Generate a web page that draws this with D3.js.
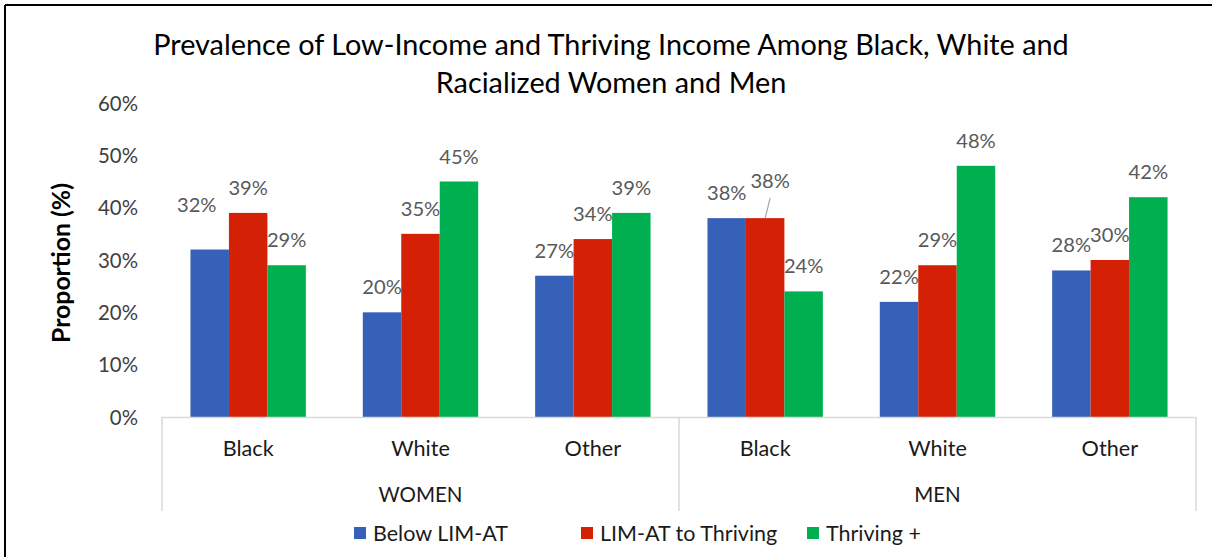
<!DOCTYPE html>
<html>
<head>
<meta charset="utf-8">
<script src="https://cdn.jsdelivr.net/npm/d3@7"></script>
<style>
  html, body { margin: 0; padding: 0; background: #fff; }
  svg { display: block; font-family: Lato, "Open Sans", sans-serif; }
</style>
</head>
<body>
<svg id="chart" width="1212" height="557"></svg>
<script>
// Chart data
const groups = ["WOMEN", "MEN"];
const races = ["Black", "White", "Other"];
const seriesNames = ["Below LIM-AT", "LIM-AT to Thriving", "Thriving +"];
const belowLimAt = [32, 20, 27, 38, 22, 28];
const limAtToThriving = [39, 35, 34, 38, 29, 30];
const thrivingPlus = [29, 45, 39, 24, 48, 42];
const yTicks = [0, 10, 20, 30, 40, 50, 60];
const titleLines = [
  "Prevalence of Low-Income and Thriving Income Among Black, White and",
  "Racialized Women and Men"
];

const colors = ["#3562b8", "#d42004", "#00b050"];
const seriesValues = [belowLimAt, limAtToThriving, thrivingPlus];

// category keys: one per group/race pair
const cats = [];
groups.forEach(g => races.forEach(r => cats.push(g + "|" + r)));

const svg = d3.select("#chart");

// pick a font size so that a sample string takes the given width
function sizeFor(sample, width, weight) {
  const t = svg.append("text").attr("font-size", 100)
    .attr("font-weight", weight || "normal").text(sample);
  const w = t.node().getComputedTextLength();
  t.remove();
  return 100 * width / w;
}
const fsTitle = sizeFor(titleLines[0], 916);
const fsYTitle = sizeFor("Proportion (%)", 160, "bold");
const fsLabel = sizeFor("45%", 39.5);
const fsTick = sizeFor("60%", 40);
const fsCat = sizeFor("Black", 51);
const fsGroup = sizeFor("WOMEN", 84);
const fsLegend = sizeFor("Below LIM-AT", 135);

// frame lines along the top and left edges
svg.append("line").attr("x1", 5).attr("x2", 1212).attr("y1", 5).attr("y2", 5)
  .attr("stroke", "#000").attr("stroke-width", 2);
svg.append("line").attr("x1", 5).attr("x2", 5).attr("y1", 5).attr("y2", 557)
  .attr("stroke", "#000").attr("stroke-width", 2);

const plot = { left: 162, right: 1196, top: 103, bottom: 417 };

const x0 = d3.scaleBand().domain(cats).range([plot.left, plot.right]).padding(0);
const x1 = d3.scaleBand().domain(seriesNames).range([0, x0.bandwidth()])
  .paddingInner(0).paddingOuter(0.74);
const y = d3.scaleLinear().domain([0, 60]).range([plot.bottom, plot.top]);

// title
const title = svg.append("text").attr("text-anchor", "middle")
  .attr("font-size", fsTitle).attr("fill", "#000");
titleLines.forEach((t, i) => {
  title.append("tspan").attr("x", 611).attr("y", 55 + i * 38).text(t);
});

// y axis (labels only)
const yAxis = d3.axisLeft(y).tickValues(yTicks).tickFormat(d => d + "%").tickSize(0).tickPadding(0);
const yg = svg.append("g").attr("transform", "translate(138,0)").call(yAxis);
yg.select(".domain").remove();
yg.selectAll("text").attr("font-size", fsTick).attr("fill", "#404040")
  .attr("font-family", "Lato, sans-serif").attr("dy", "0.35em");

// y axis title
svg.append("text")
  .attr("transform", `translate(70,${(183 + 343) / 2}) rotate(-90)`)
  .attr("text-anchor", "middle").attr("font-size", fsYTitle).attr("font-weight", "bold")
  .attr("fill", "#000").text("Proportion (%)");

// bars
const barData = [];
cats.forEach((c, ci) => {
  seriesNames.forEach((s, si) => {
    barData.push({ cat: c, ci, series: s, si, value: seriesValues[si][ci] });
  });
});

svg.append("g").selectAll("rect").data(barData).join("rect")
  .attr("x", d => x0(d.cat) + x1(d.series))
  .attr("y", d => y(d.value))
  .attr("width", x1.bandwidth())
  .attr("height", d => y(0) - y(d.value))
  .attr("fill", d => colors[d.si]);

// data labels; a few are moved to avoid collisions
const nudge = { "0-0": [-13, -20, false], "3-1": [5, -12, true] };
const labels = svg.append("g");
barData.forEach(d => {
  const key = d.ci + "-" + d.si;
  const [dx, dy, leader] = nudge[key] || [0, 0, false];
  const cx = x0(d.cat) + x1(d.series) + x1.bandwidth() / 2;
  const ty = y(d.value) - 18 + dy;
  labels.append("text").attr("x", cx + dx).attr("y", ty)
    .attr("text-anchor", "middle").attr("font-size", fsLabel).attr("fill", "#595959")
    .text(d.value + "%");
  if (leader) {
    labels.append("line")
      .attr("x1", cx + dx).attr("y1", ty + 10)
      .attr("x2", cx).attr("y2", y(d.value))
      .attr("stroke", "#a6a6a6").attr("stroke-width", 1.2);
  }
});

// category axis
const axisColor = "#d9d9d9";
svg.append("line").attr("x1", plot.left).attr("x2", plot.right)
  .attr("y1", plot.bottom + 0.5).attr("y2", plot.bottom + 0.5)
  .attr("stroke", axisColor).attr("stroke-width", 1.5);
const groupW = x0.bandwidth() * races.length;
[0, 1, 2].forEach(i => {
  const gx = plot.left + i * groupW;
  svg.append("line").attr("x1", gx).attr("x2", gx)
    .attr("y1", plot.bottom).attr("y2", 511)
    .attr("stroke", axisColor).attr("stroke-width", 1.5);
});

svg.append("g").selectAll("text").data(cats).join("text")
  .attr("x", d => x0(d) + x0.bandwidth() / 2).attr("y", 456)
  .attr("text-anchor", "middle").attr("font-size", fsCat).attr("fill", "#1a1a1a")
  .text(d => d.split("|")[1]);

svg.append("g").selectAll("text").data(groups).join("text")
  .attr("x", (d, i) => plot.left + (i + 0.5) * groupW).attr("y", 502)
  .attr("text-anchor", "middle").attr("font-size", fsGroup).attr("fill", "#1a1a1a")
  .text(d => d);

// legend
const legendX = [354, 581, 807];
const legend = svg.append("g");
seriesNames.forEach((s, i) => {
  legend.append("rect").attr("x", legendX[i]).attr("y", 527)
    .attr("width", 12).attr("height", 12).attr("fill", colors[i]);
  legend.append("text").attr("x", legendX[i] + 19).attr("y", 541)
    .attr("font-size", fsLegend).attr("fill", "#1a1a1a").text(s);
});
</script>
</body>
</html>
